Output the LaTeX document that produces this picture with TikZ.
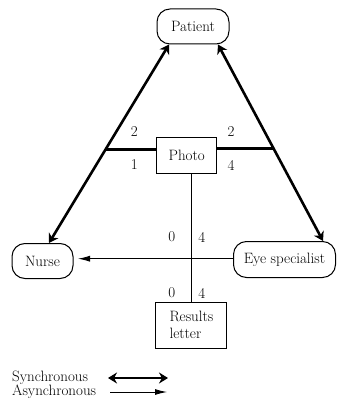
\documentclass[tikz,border=0pt]{standalone}
\usetikzlibrary{arrows.meta,calc}
\begin{document}
\begin{tikzpicture}[x=1pt,y=-1pt,
  font=\fontsize{15}{16}\selectfont,
  actor/.style={draw,line width=1pt,rounded corners=13pt,inner sep=0pt,align=center,fill=white},
  item/.style={draw,line width=0.9pt,inner sep=0pt,fill=white},
  sync/.style={line width=2.6pt,{Stealth[length=9pt,width=11pt]}-{Stealth[length=9pt,width=11pt]}},
  async/.style={line width=0.9pt,-{Latex[length=12pt,width=6pt]}},
  bar/.style={line width=2.8pt},
  thin/.style={line width=0.9pt},
  lbl/.style={inner sep=0pt}]
\useasboundingbox (0,0) rectangle (338,403);
% actors
\node[actor,minimum width=72pt,minimum height=35pt] (patient) at (193,26.5) {Patient};
\node[actor,minimum width=61pt,minimum height=35pt] (nurse) at (42.5,261) {Nurse};
\node[actor,minimum width=102pt,minimum height=36pt] (eye) at (284.5,259.5) {Eye specialist};
% sync arrows
\coordinate (p1) at ([xshift=-24pt]patient.south);
\coordinate (p2) at ([xshift=25pt]patient.south);
\coordinate (n1) at ([xshift=6.5pt]nurse.north);
\coordinate (e1) at ([xshift=38.5pt]eye.north);
\draw[sync] (p1) -- (n1);
\draw[sync] (p2) -- (e1);
% photo and results
\node[item,minimum width=60pt,minimum height=36pt] (photo) at (186.7,155.3) {Photo};
\node[item,minimum width=71pt,minimum height=46pt,align=left] (results) at (191.4,325) {Results\\[1pt]letter};
\coordinate (bl) at ($(p1)!0.53!(n1)$);
\coordinate (br) at ($(p2)!0.53!(e1)$);
\draw[bar] (bl) -- (bl -| photo.west);
\draw[bar] (br -| photo.east) -- (br);
\draw[thin] (results.north) -- (results.north |- photo.south);
% async arrow
\coordinate (nt) at ([xshift=4.5pt,yshift=2.3pt]nurse.east);
\draw[async] (eye.west |- nt) -- (nt);
% numbers
\node[lbl] (l2a) at (134.3,131.5) {2};
\node[lbl] (l1) at (134.3,165) {1};
\node[lbl] (l2b) at (231,131.5) {2};
\node[lbl] (l4a) at (231,165) {4};
\node[lbl] (l0a) at (171.7,237) {0};
\node[lbl] (l4b) at (201.7,237) {4};
\node[lbl] (l0b) at (171.7,293) {0};
\node[lbl] (l4c) at (201.7,293) {4};
% legend
\node[lbl,anchor=west] (ls) at (12,378) {Synchronous};
\node[lbl,anchor=west] (la) at (12,392) {Asynchronous};
\coordinate (s1) at (108,378);
\coordinate (s2) at (168,378);
\coordinate (a1) at (110,392);
\coordinate (a2) at (167,392);
\draw[sync,line width=2.4pt] (s1) -- (s2);
\draw[async] (a1) -- (a2);
\end{tikzpicture}
\end{document}
